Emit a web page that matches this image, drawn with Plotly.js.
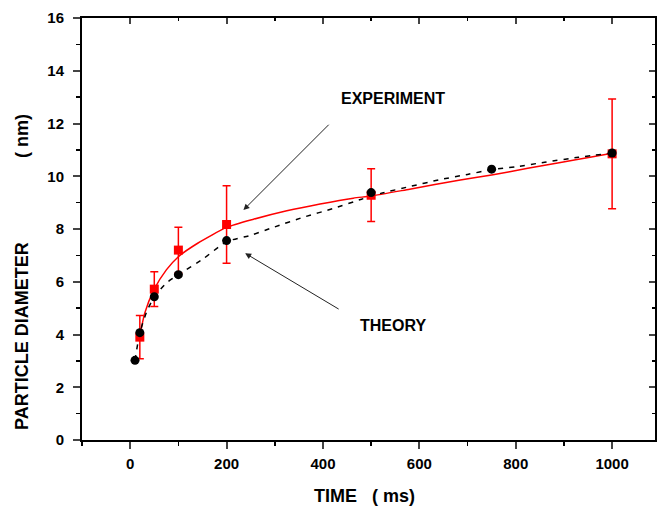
<!DOCTYPE html>
<html>
<head>
<meta charset="utf-8">
<script src="https://cdn.plot.ly/plotly-3.0.1.min.js"></script>
<style>
html,body{margin:0;padding:0;background:#fff;}
#chart{width:657px;height:517px;}
</style>
</head>
<body>
<div id="chart"></div>
<script>
// Experimental points (red squares) with error bars
const expTime = [20, 50, 100, 200, 500, 1000];
const expDiam = [3.9, 5.72, 7.2, 8.17, 9.28, 10.85];
const expErr  = [0.82, 0.66, 0.87, 1.47, 1.0, 2.08];

// Theory points (black)
const thTime = [10, 20, 50, 100, 200, 500, 750, 1000];
const thDiam = [3.02, 4.07, 5.43, 6.27, 7.56, 9.38, 10.27, 10.88];

const expFitTime = [20, 30, 50, 75, 100, 140, 200, 256, 325, 394, 463, 500, 580, 685, 750, 825, 890, 960, 1000];
const expFitDiam = [3.92, 4.8, 5.72, 6.45, 6.95, 7.46, 8.06, 8.37, 8.69, 8.95, 9.17, 9.25, 9.51, 9.86, 10.05, 10.3, 10.51, 10.74, 10.87];

// Theory curve (black dashed)
const thFitTime = [10, 20, 35, 50, 75, 100, 150, 200, 250, 300, 360, 420, 480, 520, 580, 640, 700, 750, 800, 860, 930, 1000];
const thFitDiam = [3.02, 4.07, 4.9, 5.43, 5.95, 6.27, 6.85, 7.52, 7.76, 8.08, 8.45, 8.77, 9.13, 9.35, 9.61, 9.86, 10.07, 10.25, 10.36, 10.53, 10.72, 10.88];

const xTickVals = [0, 200, 400, 600, 800, 1000];
const yTickVals = [0, 2, 4, 6, 8, 10, 12, 14, 16];

const FONT = 'Liberation Sans, Arial, sans-serif';
const X_RANGE = [-100, 1089];

const traces = [
  {x: expFitTime, y: expFitDiam, mode: 'lines', line: {color: '#ff0000', width: 1.5, shape: 'spline', smoothing: 0.6}, hoverinfo: 'skip'},
  {x: thFitTime, y: thFitDiam, mode: 'lines', line: {color: '#000000', width: 1.5, dash: '5px,6px', shape: 'spline', smoothing: 0.6}, hoverinfo: 'skip'},
  {x: expTime, y: expDiam, mode: 'markers', marker: {symbol: 'square', size: 9, color: '#ff0000'},
   error_y: {type: 'data', array: expErr, visible: true, color: '#ff0000', thickness: 1.5, width: 4}},
  {x: thTime, y: thDiam, mode: 'markers', marker: {symbol: 'circle', size: 9, color: '#000000'}},
  {x: [], y: [], xaxis: 'x2', yaxis: 'y2', mode: 'markers', hoverinfo: 'skip'}
];

const layout = {
  width: 657, height: 517,
  margin: {l: 82, r: 2, t: 18, b: 77},
  paper_bgcolor: '#ffffff', plot_bgcolor: '#ffffff',
  showlegend: false,
  font: {family: FONT, color: '#000'},
  xaxis: {
    range: X_RANGE, tickvals: xTickVals, ticks: 'outside', ticklen: 7, tickwidth: 2,
    tickfont: {family: FONT, size: 15, weight: 'bold', color: '#000'},
    showline: true, linewidth: 2, linecolor: '#000', mirror: true,
    showgrid: false, zeroline: false,
    minor: {dtick: 100, tick0: 0, ticks: 'outside', ticklen: 4, tickwidth: 1.5, tickcolor: '#000', showgrid: false},
    ticklabelstandoff: 2
  },
  yaxis: {
    range: [0, 16], tickvals: yTickVals, ticks: 'outside', ticklen: 7, tickwidth: 2,
    tickfont: {family: FONT, size: 15, weight: 'bold', color: '#000'},
    showline: true, linewidth: 2, linecolor: '#000', mirror: true,
    showgrid: false, zeroline: false,
    minor: {dtick: 1, tick0: 0, ticks: 'outside', ticklen: 4, tickwidth: 1.5, tickcolor: '#000', showgrid: false},
    ticklabelstandoff: 6
  },
  xaxis2: {
    overlaying: 'x', side: 'top', anchor: 'y2', range: X_RANGE, tickvals: xTickVals,
    ticks: 'inside', ticklen: 6, tickwidth: 2, showticklabels: false, showline: false,
    showgrid: false, zeroline: false,
    minor: {dtick: 100, tick0: 0, ticks: 'inside', ticklen: 3, tickwidth: 1.5, tickcolor: '#000', showgrid: false}
  },
  yaxis2: {
    overlaying: 'y', side: 'right', anchor: 'x2', range: [0, 16], tickvals: yTickVals,
    ticks: 'inside', ticklen: 6, tickwidth: 2, showticklabels: false, showline: false,
    showgrid: false, zeroline: false,
    minor: {dtick: 1, tick0: 0, ticks: 'inside', ticklen: 3, tickwidth: 1.5, tickcolor: '#000', showgrid: false}
  },
  annotations: [
    {xref: 'paper', yref: 'paper', x: (364 - 82) / 573, y: (440 - 496) / 422, text: 'TIME\u00a0\u00a0\u00a0( ms)',
     showarrow: false, font: {family: FONT, size: 18, weight: 'bold', color: '#000'}, xanchor: 'center', yanchor: 'middle'},
    {xref: 'paper', yref: 'paper', x: (22 - 82) / 573, y: (440 - 336) / 422, text: 'PARTICLE DIAMETER',
     textangle: -90, showarrow: false, font: {family: FONT, size: 18, weight: 'bold', color: '#000'}, xanchor: 'center', yanchor: 'middle'},
    {xref: 'paper', yref: 'paper', x: (22 - 82) / 573, y: (440 - 136) / 422, text: '( nm)',
     textangle: -90, showarrow: false, font: {family: FONT, size: 18, weight: 'bold', color: '#000'}, xanchor: 'center', yanchor: 'middle'},
    {xref: 'x', yref: 'y', x: 546, y: 12.93, text: 'EXPERIMENT', showarrow: false,
     font: {family: FONT, size: 16, weight: 'bold', color: '#000'}},
    {xref: 'x', yref: 'y', x: 546, y: 4.36, text: 'THEORY', showarrow: false,
     font: {family: FONT, size: 16, weight: 'bold', color: '#000'}},
    {xref: 'x', yref: 'y', axref: 'x', ayref: 'y', x: 235, y: 8.72, ax: 415, ay: 12.01, text: '',
     showarrow: true, arrowhead: 2, arrowsize: 1.2, arrowwidth: 1, arrowcolor: '#222'},
    {xref: 'x', yref: 'y', axref: 'x', ayref: 'y', x: 238.6, y: 7.08, ax: 435.7, ay: 4.93, text: '',
     showarrow: true, arrowhead: 2, arrowsize: 1.2, arrowwidth: 1, arrowcolor: '#222'}
  ]
};

Plotly.newPlot('chart', traces, layout, {displayModeBar: false, staticPlot: true});
</script>
</body>
</html>
